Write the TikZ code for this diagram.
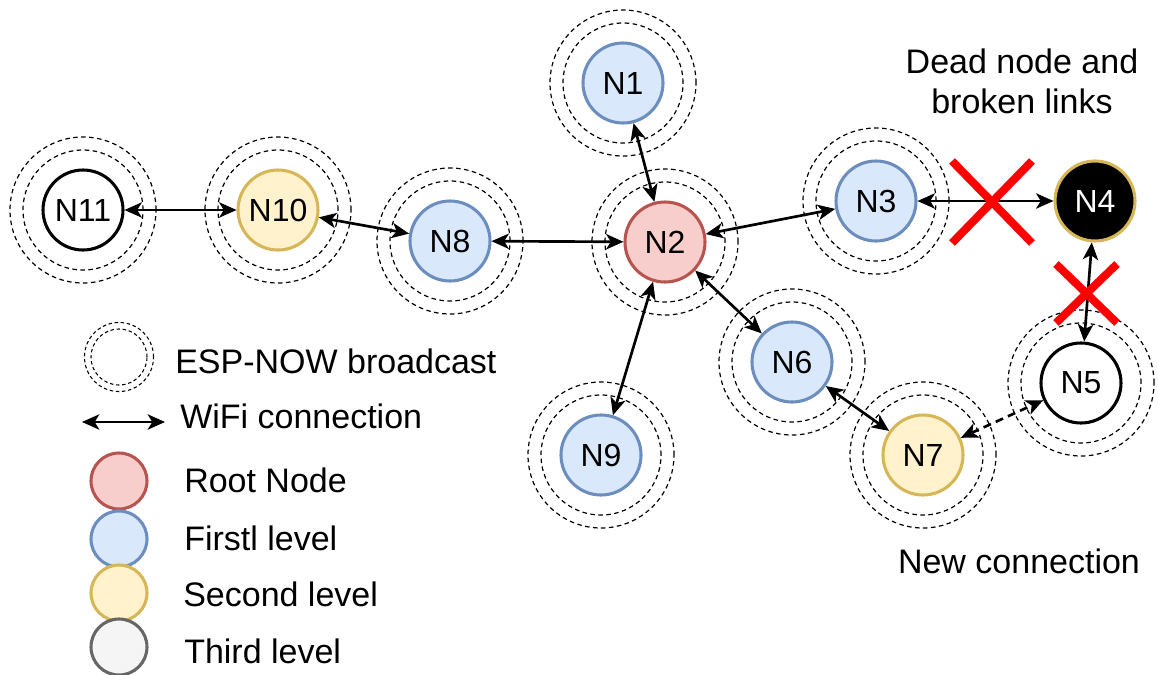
\documentclass[tikz,border=0pt]{standalone}
\usepackage{fontspec}
\setmainfont{Liberation Sans}
\usetikzlibrary{arrows.meta}
\definecolor{rootfill}{HTML}{F8CECC}\definecolor{rootline}{HTML}{B85450}
\definecolor{firstfill}{HTML}{DAE8FC}\definecolor{firstline}{HTML}{6C8EBF}
\definecolor{secfill}{HTML}{FFF2CC}\definecolor{secline}{HTML}{D6B656}
\definecolor{thirdfill}{HTML}{F5F5F5}\definecolor{thirdline}{HTML}{666666}
\tikzset{
  mnode/.style={circle, minimum size=60pt, inner sep=0pt, line width=2.3pt, font=\fontsize{24}{28}\selectfont},
  rootn/.style={mnode, fill=rootfill, draw=rootline},
  firstn/.style={mnode, fill=firstfill, draw=firstline},
  secn/.style={mnode, fill=secfill, draw=secline},
  plainn/.style={mnode, fill=white, draw=black},
  deadn/.style={mnode, fill=black, draw=secline, text=white},
  bcast/.style={draw=black, line width=0.9pt, dash pattern=on 3.4pt off 2.6pt},
  wifi/.style={line width=2pt, {Stealth[length=13pt,width=11.5pt,inset=3.5pt]}-{Stealth[length=13pt,width=11.5pt,inset=3.5pt]}},
  newlink/.style={wifi, dash pattern=on 6pt off 4pt},
  cross/.style={draw=red, line width=6pt},
  lgtext/.style={anchor=base west, inner sep=0pt, font=\fontsize{25.5}{30}\selectfont},
  note/.style={anchor=base, inner sep=0pt, font=\fontsize{25.5}{30}\selectfont},
  lgcircle/.style={circle, minimum size=42pt, inner sep=0pt, line width=2.3pt},
}
\begin{document}
\begin{tikzpicture}[x=0.75pt,y=-0.75pt]
\useasboundingbox (0,0) rectangle (1158,675);
% nodes
\node[firstn] (N1) at (623,83) {N1};
\node[rootn] (N2) at (665,242) {N2};
\node[firstn] (N3) at (876,201) {N3};
\node[deadn] (N4) at (1095,201) {N4};
\node[plainn] (N5) at (1081,383) {N5};
\node[firstn] (N6) at (792,362) {N6};
\node[secn] (N7) at (923,455) {N7};
\node[firstn] (N8) at (450,241) {N8};
\node[firstn] (N9) at (601,455) {N9};
\node[secn] (N10) at (278,210) {N10};
\node[plainn] (N11) at (83,210) {N11};
% broadcast rings
\foreach \n in {N1,N2,N3,N5,N6,N7,N8,N9,N10,N11}{
  \draw[bcast] (\n.center) circle[radius=45pt];
  \draw[bcast] (\n.center) circle[radius=54.75pt];
}
% connections
\draw[wifi] (N11) -- (N10);
\draw[wifi] (N10) -- (N8);
\draw[wifi] (N8) -- (N2);
\draw[wifi] (N1) -- (N2);
\draw[wifi] (N2) -- (N3);
\draw[wifi] (N3) -- (N4);
\draw[wifi] (N4) -- (N5);
\draw[wifi] (N2) -- (N6);
\draw[wifi] (N2) -- (N9);
\draw[wifi] (N6) -- (N7);
\draw[newlink] (N7) -- (N5);
% broken links
\draw[cross] (952,161) -- (1032,243);
\draw[cross] (952,243) -- (1032,161);
\draw[cross] (1056,264) -- (1117,323);
\draw[cross] (1056,323) -- (1117,264);
% notes
\node[note] (dead1) at (1022,73) {Dead node and};
\node[note] (dead2) at (1022,113) {broken links};
\node[note] (newc) at (1019,573) {New connection};
% legend
\coordinate (lgb) at (119,357);
\draw[bcast, line width=0.8pt, dash pattern=on 2.6pt off 2pt] (lgb) circle[radius=25.9pt];
\draw[bcast, line width=0.8pt, dash pattern=on 2.6pt off 2pt] (lgb) circle[radius=21pt];
\node[lgtext] (t1) at (175,373) {ESP-NOW broadcast};
\coordinate (wa) at (82,422);
\coordinate (wb) at (165,422);
\draw[wifi] (wa) -- (wb);
\node[lgtext] (t2) at (180,428) {WiFi connection};
\node[lgcircle, fill=rootfill, draw=rootline] (c1) at (119,481) {};
\node[lgcircle, fill=firstfill, draw=firstline] (c2) at (119,539) {};
\node[lgcircle, fill=secfill, draw=secline] (c3) at (119,593) {};
\node[lgcircle, fill=thirdfill, draw=thirdline] (c4) at (119,647) {};
\node[lgtext] (t3) at (184,492) {Root Node};
\node[lgtext] (t4) at (184,550) {Firstl level};
\node[lgtext] (t5) at (183,606) {Second level};
\node[lgtext] (t6) at (184,663) {Third level};
\end{tikzpicture}
\end{document}
